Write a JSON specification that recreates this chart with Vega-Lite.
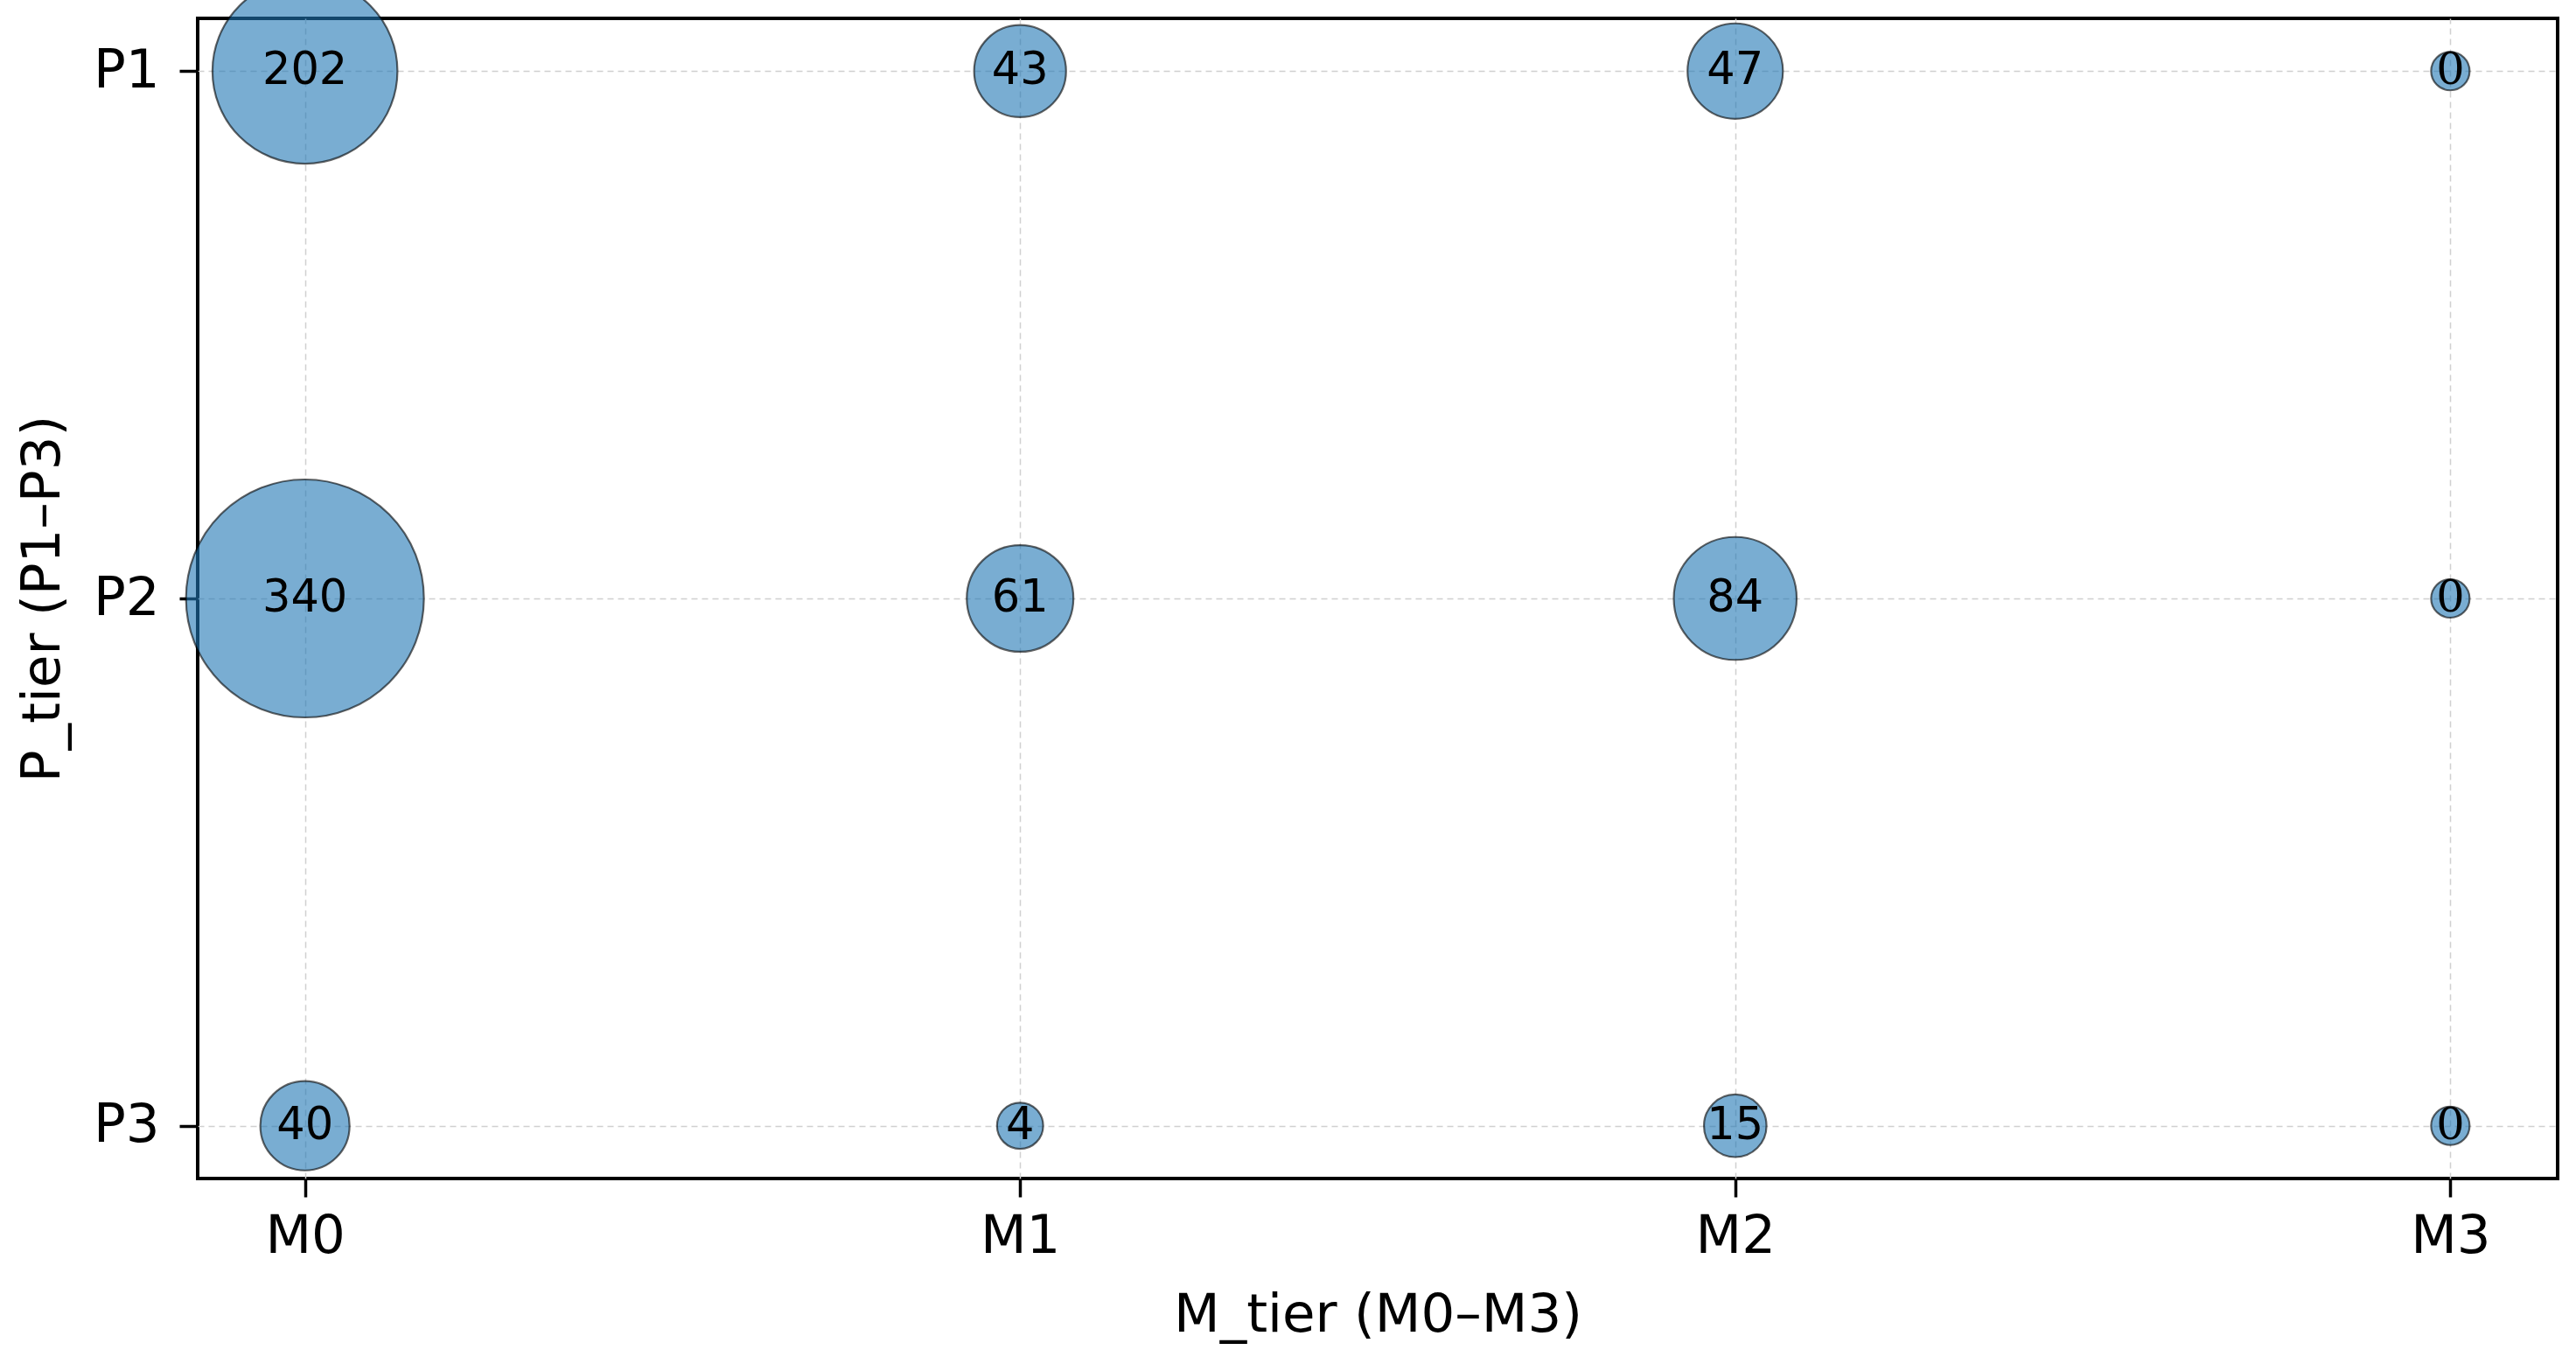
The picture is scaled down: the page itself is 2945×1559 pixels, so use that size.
{
  "$schema": "https://vega.github.io/schema/vega-lite/v6.json",
  "autosize": {"type": "none"},
  "width": 2698,
  "height": 1326,
  "padding": {"left": 226, "top": 21, "right": 21, "bottom": 212},
  "background": "white",
  "config": {
    "view": {"stroke": "black", "strokeWidth": 4},
    "font": "DejaVu Sans"
  },
  "data": {
    "values": [
      {"M_tier": "M0", "P_tier": "P1", "count": 202},
      {"M_tier": "M1", "P_tier": "P1", "count": 43},
      {"M_tier": "M2", "P_tier": "P1", "count": 47},
      {"M_tier": "M3", "P_tier": "P1", "count": 0},
      {"M_tier": "M0", "P_tier": "P2", "count": 340},
      {"M_tier": "M1", "P_tier": "P2", "count": 61},
      {"M_tier": "M2", "P_tier": "P2", "count": 84},
      {"M_tier": "M3", "P_tier": "P2", "count": 0},
      {"M_tier": "M0", "P_tier": "P3", "count": 40},
      {"M_tier": "M1", "P_tier": "P3", "count": 4},
      {"M_tier": "M2", "P_tier": "P3", "count": 15},
      {"M_tier": "M3", "P_tier": "P3", "count": 0}
    ]
  },
  "encoding": {
    "x": {
      "field": "M_tier", "type": "nominal",
      "scale": {"type": "point", "domain": ["M0", "M1", "M2", "M3"], "padding": 0.15},
      "axis": {
        "title": "M_tier (M0–M3)", "titleFontSize": 61, "titleFont": "DejaVu Sans", "titleFontWeight": "normal", "titleColor": "black", "titlePadding": 30,
        "labelFontSize": 61, "labelFont": "DejaVu Sans", "labelColor": "black", "labelPadding": 15, "labelAngle": 0,
        "tickSize": 21, "tickWidth": 3.5, "tickColor": "black",
        "domain": false,
        "grid": true, "gridColor": "#d0d0d0", "gridWidth": 1.5, "gridDash": [7, 5]
      }
    },
    "y": {
      "field": "P_tier", "type": "nominal",
      "scale": {"type": "point", "domain": ["P1", "P2", "P3"], "padding": 0.1},
      "axis": {
        "title": "P_tier (P1–P3)", "titleFontSize": 61, "titleFont": "DejaVu Sans", "titleFontWeight": "normal", "titleColor": "black", "titlePadding": 26,
        "labelFontSize": 61, "labelFont": "DejaVu Sans", "labelColor": "black", "labelPadding": 23,
        "tickSize": 21, "tickWidth": 3.5, "tickColor": "black",
        "domain": false,
        "grid": true, "gridColor": "#d0d0d0", "gridWidth": 1.5, "gridDash": [7, 5]
      }
    }
  },
  "layer": [
    {
      "mark": {"type": "circle", "fill": "#1f77b4", "fillOpacity": 0.6, "stroke": "black", "strokeOpacity": 0.6, "strokeWidth": 2.2, "opacity": 1},
      "encoding": {
        "size": {"field": "count", "type": "quantitative", "scale": {"type": "linear", "domain": [0, 340], "range": [1936, 73984]}, "legend": null}
      }
    },
    {
      "transform": [{"filter": "datum.count > 0"}],
      "mark": {"type": "text", "fontSize": 51, "font": "DejaVu Sans", "color": "black", "align": "center", "baseline": "middle"},
      "encoding": {"text": {"field": "count", "type": "quantitative"}}
    },
    {
      "transform": [{"filter": "datum.count == 0"}],
      "mark": {"type": "text", "fontSize": 51, "font": "DejaVu Serif", "color": "black", "align": "center", "baseline": "middle"},
      "encoding": {"text": {"field": "count", "type": "quantitative"}}
    }
  ]
}
